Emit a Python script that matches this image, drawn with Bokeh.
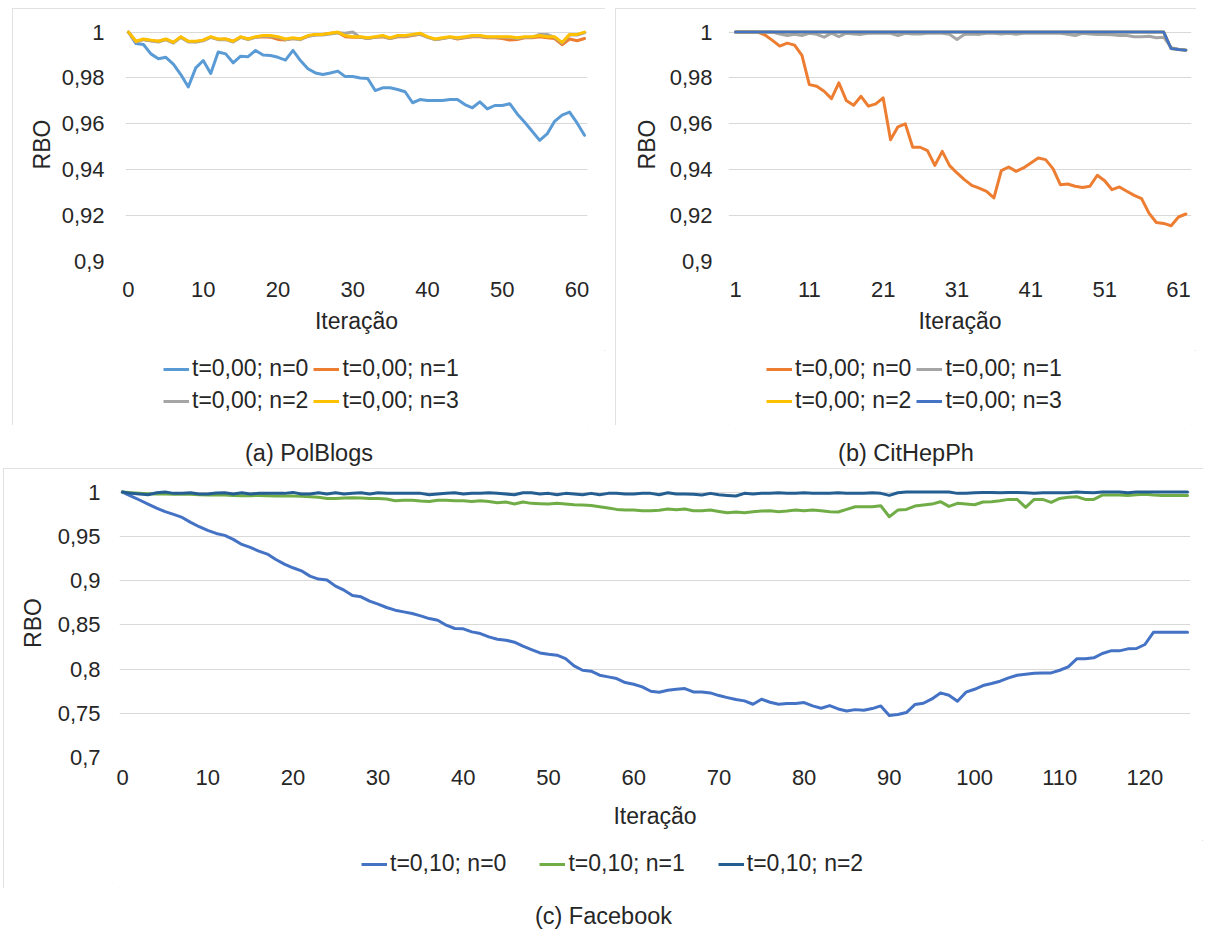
from bokeh.plotting import figure
from bokeh.models import FixedTicker, Legend, LegendItem, Spacer, Range1d
from bokeh.layouts import row, column
from bokeh.core.properties import value
from bokeh.embed import file_html
from bokeh.resources import INLINE

FONT = "Liberation Sans"
TXT = "#262626"
GRID = "#D9D9D9"

# ---------------- (a) PolBlogs ----------------
a_x = list(range(0, 62))
a_n0 = [1.0, 0.995, 0.9946, 0.9905, 0.9884, 0.989, 0.986, 0.9815, 0.9761, 0.9844,
        0.9876, 0.982, 0.9913, 0.9905, 0.9866, 0.9895, 0.9893, 0.992, 0.990, 0.9898,
        0.989, 0.9878, 0.992, 0.9876, 0.984, 0.9822, 0.9815, 0.9822, 0.983, 0.9806,
        0.9806, 0.980, 0.9798, 0.9745, 0.9757, 0.9757, 0.975, 0.974, 0.9692, 0.9706,
        0.9702, 0.9702, 0.9702, 0.9706, 0.9706, 0.9684, 0.967, 0.9696, 0.9665, 0.968,
        0.968, 0.9688, 0.9643, 0.9607, 0.9568, 0.9528, 0.9556, 0.9611, 0.9638, 0.9651,
        0.9604, 0.955]
a_n1 = [1.0, 0.9958, 0.9968, 0.9962, 0.996, 0.9968, 0.9955, 0.9978, 0.996, 0.9958,
        0.9965, 0.9978, 0.9968, 0.997, 0.996, 0.9978, 0.997, 0.9978, 0.998, 0.9978,
        0.9968, 0.9966, 0.9972, 0.997, 0.9982, 0.9988, 0.999, 0.9995, 0.9998, 0.998,
        0.9978, 0.9978, 0.9972, 0.9978, 0.998, 0.9972, 0.998, 0.998, 0.9985, 0.999,
        0.9978, 0.9968, 0.9972, 0.9978, 0.997, 0.9975, 0.998, 0.998, 0.9975, 0.9975,
        0.9972, 0.9965, 0.9968, 0.9975, 0.9975, 0.998, 0.9975, 0.9972, 0.9945, 0.997,
        0.9962, 0.9972]
a_n2 = [1.0, 0.9957, 0.9967, 0.9962, 0.9957, 0.9967, 0.9952, 0.9977, 0.9957, 0.9957,
        0.9962, 0.9977, 0.9967, 0.9967, 0.9957, 0.9977, 0.9967, 0.9977, 0.9982, 0.9982,
        0.9977, 0.9967, 0.9972, 0.9967, 0.9982, 0.9987, 0.9987, 0.9992, 0.9997, 0.9995,
        1.0, 0.9977, 0.9972, 0.9977, 0.9982, 0.9972, 0.9982, 0.9982, 0.9987, 0.9992,
        0.9977, 0.9967, 0.9972, 0.9977, 0.9972, 0.9977, 0.9982, 0.9982, 0.9977, 0.9977,
        0.9977, 0.9977, 0.9972, 0.9977, 0.9977, 0.999, 0.999, 0.9977, 0.9952, 0.9987,
        0.9987, 0.9997]
a_n3 = [1.0, 0.996, 0.997, 0.9965, 0.996, 0.997, 0.9955, 0.998, 0.996, 0.996,
        0.9965, 0.998, 0.997, 0.997, 0.996, 0.998, 0.997, 0.998, 0.9985, 0.9985,
        0.998, 0.997, 0.9975, 0.997, 0.9985, 0.999, 0.999, 0.9995, 1.0, 0.9985,
        0.998, 0.998, 0.9975, 0.998, 0.9985, 0.9975, 0.9985, 0.9985, 0.999, 0.9995,
        0.998, 0.997, 0.9975, 0.998, 0.9975, 0.998, 0.9985, 0.9985, 0.998, 0.998,
        0.998, 0.998, 0.9975, 0.998, 0.998, 0.9985, 0.998, 0.998, 0.9955, 0.999,
        0.999, 1.0]
a_labels = ["t=0,00; n=0", "t=0,00; n=1", "t=0,00; n=2", "t=0,00; n=3"]
a_colors = ["#5B9BD5", "#ED7D31", "#A5A5A5", "#FFC000"]
a_xticks = [0, 10, 20, 30, 40, 50, 60]

# ---------------- (b) CitHepPh ----------------
b_x = list(range(1, 63))
b_n0 = [1.0, 1.0, 1.0, 1.0, 0.9987, 0.9964, 0.9939, 0.9952, 0.9943, 0.9898,
        0.9771, 0.9764, 0.9742, 0.971, 0.9779, 0.9702, 0.9681, 0.972, 0.9677, 0.9687,
        0.9713, 0.9531, 0.9587, 0.96, 0.9498, 0.9498, 0.9483, 0.9419, 0.948, 0.9418,
        0.9386, 0.9357, 0.9332, 0.932, 0.9306, 0.9277, 0.9396, 0.9412, 0.9393, 0.9408,
        0.9429, 0.9451, 0.9444, 0.9405, 0.9335, 0.9338, 0.9328, 0.9323, 0.9328, 0.9376,
        0.9352, 0.9313, 0.9325, 0.9306, 0.9288, 0.9274, 0.9211, 0.917, 0.9166, 0.9156,
        0.9194, 0.9207]
b_n1 = [1.0, 1.0, 1.0, 1.0, 1.0, 1.0, 0.9992, 0.9985, 0.999, 0.9985,
        0.9995, 0.999, 0.9978, 0.9995, 0.998, 0.9995, 0.9992, 0.999, 0.9995, 0.9995,
        0.9995, 0.9995, 0.9985, 0.9995, 0.9992, 0.9992, 0.9995, 0.9995, 0.9995, 0.999,
        0.9968, 0.999, 0.9992, 0.999, 0.9995, 0.9995, 0.9992, 0.9995, 0.999, 0.9995,
        0.9995, 0.9995, 0.9995, 0.9995, 0.9995, 0.999, 0.9985, 0.9995, 0.9992, 0.999,
        0.999, 0.9988, 0.9985, 0.9985, 0.998, 0.998, 0.9982, 0.9975, 0.9978, 0.9932,
        0.9925, 0.9922]
b_n2 = [1.0] * 59 + [0.9928, 0.9924, 0.9921]
b_n3 = [1.0] * 59 + [0.9928, 0.9924, 0.9921]
b_labels = ["t=0,00; n=0", "t=0,00; n=1", "t=0,00; n=2", "t=0,00; n=3"]
b_colors = ["#ED7D31", "#A5A5A5", "#FFC000", "#4472C4"]
b_xticks = [1, 11, 21, 31, 41, 51, 61]

# ---------------- (c) Facebook ----------------
c_x = list(range(0, 126))
c_n0 = [1.0, 0.9955, 0.991, 0.9864, 0.9819, 0.9778, 0.9747, 0.9713, 0.9657, 0.9608,
        0.9566, 0.9532, 0.951, 0.9465, 0.9408, 0.9374, 0.9333, 0.9299, 0.9238, 0.9186,
        0.9144, 0.911, 0.905, 0.9016, 0.9005, 0.8937, 0.8891, 0.8831, 0.8816, 0.8767,
        0.8733, 0.8695, 0.8665, 0.8646, 0.8627, 0.8601, 0.857, 0.8552, 0.8495, 0.8458,
        0.8454, 0.842, 0.8401, 0.8363, 0.8337, 0.8326, 0.8303, 0.8258, 0.822, 0.8182,
        0.8167, 0.8156, 0.8118, 0.8035, 0.7986, 0.7975, 0.793, 0.7911, 0.7892, 0.7847,
        0.7828, 0.7798, 0.7749, 0.7738, 0.776, 0.7771, 0.7779, 0.7741, 0.7741, 0.773,
        0.77, 0.7677, 0.7655, 0.764, 0.7602, 0.7658, 0.7624, 0.7602, 0.7609, 0.7609,
        0.7621, 0.7583, 0.7557, 0.7587, 0.7549, 0.7526, 0.7541, 0.7534, 0.7553, 0.7583,
        0.7474, 0.7485, 0.7508, 0.7598, 0.7613, 0.7662, 0.773, 0.7704, 0.7636, 0.7738,
        0.7771, 0.7813, 0.7836, 0.7862, 0.79, 0.793, 0.7941, 0.7952, 0.7956, 0.7956,
        0.7986, 0.8024, 0.8115, 0.8115, 0.8126, 0.8175, 0.8205, 0.8205, 0.8228, 0.8232,
        0.8277, 0.8415, 0.8415, 0.8415, 0.8415, 0.8415]
c_n1 = [1.0, 0.9992, 0.9985, 0.998, 0.9977, 0.9977, 0.9974, 0.9974, 0.9974, 0.997,
        0.9966, 0.9966, 0.9966, 0.9962, 0.9958, 0.9958, 0.9962, 0.9958, 0.9955, 0.9955,
        0.9955, 0.9951, 0.9947, 0.994, 0.9928, 0.9928, 0.9932, 0.9936, 0.9932, 0.9928,
        0.9928, 0.9921, 0.9902, 0.9906, 0.9906, 0.9898, 0.9894, 0.9906, 0.9906, 0.9902,
        0.9902, 0.9894, 0.9902, 0.9894, 0.9879, 0.9887, 0.9864, 0.9887, 0.9872, 0.9868,
        0.9864, 0.9872, 0.9864, 0.9857, 0.9853, 0.9849, 0.9834, 0.9819, 0.9804, 0.9796,
        0.9796, 0.9789, 0.9789, 0.9793, 0.9808, 0.98, 0.9808, 0.9789, 0.9789, 0.9796,
        0.9781, 0.9766, 0.9774, 0.9766, 0.9778, 0.9785, 0.9789, 0.9778, 0.9785, 0.9796,
        0.9789, 0.9796, 0.9789, 0.9778, 0.9774, 0.9804, 0.9834, 0.9834, 0.9834, 0.9845,
        0.9721, 0.9796, 0.9804, 0.9842, 0.9853, 0.9864, 0.9891, 0.9838, 0.9872, 0.9864,
        0.9857, 0.9887, 0.9891, 0.9902, 0.9917, 0.9917, 0.9827, 0.9917, 0.9917, 0.9883,
        0.9928, 0.994, 0.9947, 0.9917, 0.9917, 0.9966, 0.9966, 0.9966, 0.9962, 0.997,
        0.9974, 0.9966, 0.9962, 0.9962, 0.9962, 0.9962]
c_n2 = [1.0, 0.9985, 0.9977, 0.997, 0.9992, 1.0, 0.9985, 0.9985, 0.9992, 0.9977,
        0.9977, 0.9989, 0.9992, 0.9977, 0.9992, 0.9977, 0.9985, 0.9985, 0.9985, 0.9985,
        0.9996, 0.9977, 0.9977, 0.9992, 0.9977, 0.9992, 0.9977, 0.9985, 0.9992, 0.9977,
        0.9992, 0.9985, 0.9985, 0.9985, 0.9985, 0.9985, 0.997, 0.9977, 0.9985, 0.9992,
        0.9977, 0.9985, 0.9985, 0.9992, 0.9985, 0.9977, 0.997, 0.9992, 0.9992, 0.9977,
        0.9985, 0.997, 0.9985, 0.9977, 0.997, 0.9985, 0.997, 0.9985, 0.9985, 0.9977,
        0.9977, 0.9985, 0.9985, 0.997, 0.9992, 0.9977, 0.9977, 0.9974, 0.9966, 0.9985,
        0.997, 0.9962, 0.9955, 0.9985, 0.9977, 0.9985, 0.9985, 0.9992, 0.9985, 0.9985,
        0.9992, 0.9985, 0.9985, 0.9985, 0.9992, 0.9985, 0.9985, 0.9985, 0.9992, 0.9985,
        0.9962, 0.9992, 1.0, 1.0, 1.0, 1.0, 1.0, 1.0, 0.9985, 0.9985,
        0.9992, 0.9996, 0.9996, 0.9992, 0.9996, 0.9996, 0.9992, 0.9985, 0.9992, 0.9992,
        0.9992, 0.9992, 1.0, 0.9996, 0.9992, 1.0, 1.0, 1.0, 0.9992, 1.0,
        1.0, 1.0, 1.0, 1.0, 1.0, 1.0]
c_labels = ["t=0,10; n=0", "t=0,10; n=1", "t=0,10; n=2"]
c_colors = ["#4472C4", "#70AD47", "#255E91"]
c_xticks = [0, 10, 20, 30, 40, 50, 60, 70, 80, 90, 100, 110, 120]

ab_yticks = [0.9, 0.92, 0.94, 0.96, 0.98, 1.0]
ab_ylabels = ["0,9", "0,92", "0,94", "0,96", "0,98", "1"]
c_yticks = [0.7, 0.75, 0.8, 0.85, 0.9, 0.95, 1.0]
c_ylabels = ["0,7", "0,75", "0,8", "0,85", "0,9", "0,95", "1"]

x_title = "Iteração"
y_title = "RBO"
captions = ["(a) PolBlogs", "(b) CitHepPh", "(c) Facebook"]

BOX = {"outline": "1px solid #D9D9D9", "outline-offset": "-1px"}


def style_axes(p, lay):
    for ax in (p.xaxis[0], p.yaxis[0]):
        ax.axis_line_color = None
        ax.major_tick_line_color = None
        ax.minor_tick_line_color = None
        ax.major_tick_out = 0
        ax.major_tick_in = 0
        ax.major_label_text_font = FONT
        ax.major_label_text_font_size = "22px"
        ax.major_label_text_color = TXT
        ax.axis_label_text_font = FONT
        ax.axis_label_text_font_size = "23px"
        ax.axis_label_text_font_style = "normal"
        ax.axis_label_text_color = TXT
    p.xaxis.major_label_standoff = lay["xstand"]
    p.xaxis.axis_label_standoff = lay["xlstand"]
    p.yaxis.major_label_standoff = lay["ystand"]
    p.yaxis.axis_label_standoff = lay["ylstand"]


def make_plot(width, height, xr, yr, borders, xticks, yticks, ylabels,
              xs, series, colors, lay):
    bl, br, bt, bb = borders
    p = figure(width=width, height=height, x_range=Range1d(*xr), y_range=Range1d(*yr),
               output_backend="svg", toolbar_location=None,
               min_border_left=bl, min_border_right=br,
               min_border_top=bt, min_border_bottom=bb,
               background_fill_color="white", border_fill_color="white",
               outline_line_color=None)
    p.xgrid.grid_line_color = None
    p.ygrid.grid_line_color = GRID
    p.ygrid.grid_line_width = 1
    style_axes(p, lay)
    p.xaxis.ticker = FixedTicker(ticks=xticks)
    p.xaxis.major_label_overrides = {t: str(t) for t in xticks}
    p.yaxis.ticker = FixedTicker(ticks=yticks)
    p.yaxis.major_label_overrides = dict(zip(yticks, ylabels))
    p.xaxis.axis_label = x_title
    p.yaxis.axis_label = y_title
    for ys, col in zip(series, colors):
        p.line(xs, ys, line_color=col, line_width=3,
               line_join="round", line_cap="round")
    return p


def make_legend(width, height, xs, series, colors, labels, loc, spacing, ncols=None):
    # legend strip below the plot; its series lie outside this strip's ranges,
    # so only the legend entries are seen
    f = figure(width=width, height=height, x_range=Range1d(0, 1),
               y_range=Range1d(10, 11), output_backend="svg",
               toolbar_location=None, x_axis_location=None, y_axis_location=None,
               min_border=0, outline_line_color=None,
               background_fill_color="white", border_fill_color="white")
    f.grid.visible = False
    items = []
    for ys, col, lab in zip(series, colors, labels):
        r = f.line(xs, ys, line_color=col, line_width=3)
        items.append(LegendItem(label=lab, renderers=[r]))
    leg = Legend(items=items, location=loc, orientation="horizontal",
                 label_text_font=FONT, label_text_font_size="23px",
                 label_text_color=TXT, glyph_width=26, glyph_height=26,
                 label_height=26, label_standoff=3, spacing=spacing,
                 padding=0, margin=0, border_line_color=None,
                 background_fill_alpha=0)
    if ncols:
        leg.ncols = ncols
    f.add_layout(leg)
    return f


def cap_fig(text, w, h, yc):
    f = figure(width=w, height=h, x_range=Range1d(0, w), y_range=Range1d(0, h),
               output_backend="svg", toolbar_location=None,
               x_axis_location=None, y_axis_location=None,
               min_border=0, outline_line_color=None)
    f.grid.visible = False
    f.text(x=[w / 2], y=[yc], text=[text], text_align="center",
           text_baseline="middle", text_font=value(FONT),
           text_font_size="23.5px", text_color=TXT)
    return f


a_series = [a_n0, a_n1, a_n2, a_n3]
b_series = [b_n0, b_n1, b_n2, b_n3]
c_series = [c_n0, c_n1, c_n2]

pa = make_plot(593, 342, (-0.4, 61.4), (0.9, 1.002), (113, 18, 19, 89),
               a_xticks, ab_yticks, ab_ylabels, a_x, a_series, a_colors,
               dict(xstand=20, xlstand=8, ystand=21, ylstand=4))
la = make_legend(593, 75, a_x, a_series, a_colors, a_labels, (38, 11), 5, ncols=2)

pb = make_plot(581, 342, (0.052, 62.76), (0.9, 1.002), (113, 5, 19, 89),
               b_xticks, ab_yticks, ab_ylabels, b_x, b_series, b_colors,
               dict(xstand=20, xlstand=8, ystand=16, ylstand=7))
lb = make_legend(581, 75, b_x, b_series, b_colors, b_labels, (38, 11), 5, ncols=2)

pc = make_plot(1200, 372, (-0.352, 125.35), (0.7, 1.004), (116, 13, 20, 83),
               c_xticks, c_yticks, c_ylabels, c_x, c_series, c_colors,
               dict(xstand=12, xlstand=15, ystand=19, ylstand=9))
lc = make_legend(1200, 48, c_x, c_series, c_colors, c_labels, (242, 11), 33)

col_a = column(pa, la, styles=BOX)
col_b = column(pb, lb, styles=BOX)
col_c = column(pc, lc, styles=BOX)

top = row(Spacer(width=12, height=417), col_a, Spacer(width=10, height=417), col_b)
caps = row(Spacer(width=12, height=43), cap_fig(captions[0], 593, 43, 16),
           Spacer(width=10, height=43), cap_fig(captions[1], 581, 43, 16))
mid = row(Spacer(width=3, height=420), col_c)
bottom = row(Spacer(width=3, height=42), cap_fig(captions[2], 1200, 42, 15))
layout = column(Spacer(width=10, height=8), top, caps, mid, bottom)

open("out.html", "w").write(file_html(layout, INLINE))
